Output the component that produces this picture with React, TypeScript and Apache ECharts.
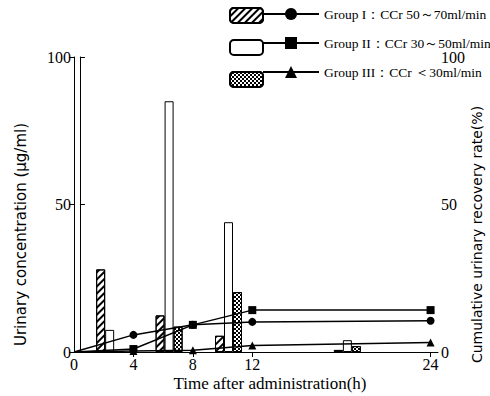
import React, { useEffect, useRef } from "react";
import * as echarts from "echarts";

// Sampling times (h) for cumulative urinary recovery
const hours = [0, 4, 8, 12, 24];
// Cumulative urinary recovery rate (%)
const rateI = [0, 5.8, 9.2, 10.2, 10.6];
const rateII = [0, 1.0, 9.2, 14.2, 14.2];
const rateIII = [0, 0.3, 0.6, 2.2, 3.2];

// Collection interval mid points (h) for urinary concentration
const intervalMid = [2, 6, 10, 18];
// Urinary concentration (µg/ml)
const concI = [28, 12.4, 5.5, 0.7];
const concII = [7.5, 85, 44, 4];
const concIII = [0, 8.6, 20.3, 2];

const xTickValues = [4, 8, 12, 24];
const xLabelValues = [0, 4, 8, 12, 24];

const groupNames = ["Group I", "Group II", "Group III"];
const groupLabels = [
  "Group I：CCr 50～70ml/min",
  "Group II：CCr 30～50ml/min",
  "Group III：CCr ＜30ml/min",
];

const SERIF = "'Liberation Serif', 'DejaVu Serif', serif";
const SANS = "'DejaVu Sans', sans-serif";

export default function App() {
  const ref = useRef<HTMLDivElement>(null);
  useEffect(() => {
    if (!ref.current) return;
    const chart = echarts.init(ref.current, undefined, { renderer: "svg" });

    const hatch = {
      symbol: "rect",
      symbolSize: 1,
      dashArrayX: [1, 0],
      dashArrayY: [1.5, 2.5],
      rotation: -Math.PI / 4,
      color: "#000",
      backgroundColor: "#fff",
    };
    const cross = {
      symbol: "rect",
      symbolSize: 1,
      dashArrayX: [
        [1.5, 1.5],
        [0, 1.5, 1.5, 0],
      ],
      dashArrayY: [1.5, 0],
      color: "#000",
      backgroundColor: "#fff",
    };
    const barStyles: any[] = [
      { color: "#fff", borderColor: "#000", borderWidth: 1, decal: hatch },
      { color: "#fff", borderColor: "#000", borderWidth: 1, decal: "none" },
      { color: "#fff", borderColor: "#000", borderWidth: 1, decal: cross },
    ];
    const concs = [concI, concII, concIII];
    const rates = [rateI, rateII, rateIII];
    const symbols = ["circle", "rect", "triangle"];

    const barSeries = concs.map((c, g) => ({
      name: groupNames[g] + " conc",
      type: "bar",
      xAxisIndex: 1,
      yAxisIndex: 0,
      barWidth: 9,
      barGap: "0%",
      itemStyle: barStyles[g],
      data: intervalMid.map((t, i) => [t, c[i]]),
    }));

    const lineSeries = rates.map((r, g) => ({
      name: groupNames[g],
      type: "line",
      xAxisIndex: 0,
      yAxisIndex: 1,
      symbol: symbols[g],
      symbolSize: 8,
      lineStyle: { color: "#000", width: 1.5 },
      itemStyle: { color: "#000" },
      z: 5,
      data: hours.map((t, i) =>
        i === 0 ? { value: [t, r[i]], symbol: "none" } : [t, r[i]]
      ),
    }));

    const axisLineStyle = { show: true, lineStyle: { color: "#000", width: 1 } };

    chart.setOption({
      animation: false,
      aria: { enabled: false, decal: { show: false } },
      grid: { left: 74, right: 52, top: 57, bottom: 44, outerBoundsMode: "none", containLabel: false },
      legend: [
        {
          orient: "vertical",
          left: 229,
          top: 7,
          padding: 0,
          itemWidth: 33,
          itemHeight: 15,
          itemGap: 15,
          selectedMode: false,
          formatter: () => "",
          textStyle: { fontSize: 13, lineHeight: 13 },
          data: groupNames.map((n) => n + " conc"),
        },
        {
          orient: "vertical",
          left: 262,
          top: 7,
          padding: 0,
          itemWidth: 56,
          itemHeight: 15,
          itemGap: 15,
          selectedMode: false,
          textStyle: { fontFamily: SERIF, fontSize: 13.5, color: "#000", lineHeight: 13 },
          formatter: (n: string) => groupLabels[groupNames.indexOf(n)],
          data: groupNames,
        },
      ],
      xAxis: [
        {
          type: "value",
          min: 0,
          max: 24.5,
          position: "bottom",
          name: "Time after administration(h)",
          nameLocation: "middle",
          nameGap: 23,
          nameMoveOverlap: false,
          nameTextStyle: { fontFamily: SERIF, fontSize: 17, color: "#000", padding: [0, 0, 0, 28] },
          axisLine: { ...axisLineStyle, onZero: false },
          axisTick: { show: true, length: 5, inside: false, customValues: xTickValues, lineStyle: { color: "#000" } },
          axisLabel: { customValues: xLabelValues, fontFamily: SERIF, fontSize: 16, color: "#000", margin: 4 },
          splitLine: { show: false },
        },
        {
          type: "value",
          min: -0.4,
          max: 24.1,
          show: false,
          splitLine: { show: false },
        },
      ],
      yAxis: [
        {
          type: "value",
          min: 0,
          max: 100,
          interval: 50,
          position: "left",
          name: "Urinary concentration (μg/ml)",
          nameLocation: "middle",
          nameGap: 46,
          nameMoveOverlap: false,
          nameTextStyle: { fontFamily: SANS, fontSize: 15, color: "#000", padding: [0, 60, 0, 0] },
          axisLine: axisLineStyle,
          axisTick: { show: true, length: 5, lineStyle: { color: "#000" } },
          axisLabel: { fontFamily: SERIF, fontSize: 16, color: "#000", margin: 3 },
          splitLine: { show: false },
        },
        {
          type: "value",
          min: 0,
          max: 100,
          interval: 50,
          position: "right",
          name: "Cumulative urinary recovery rate(%)",
          nameLocation: "middle",
          nameGap: 32,
          nameRotate: 90,
          nameMoveOverlap: false,
          nameTextStyle: { fontFamily: SANS, fontSize: 14, color: "#000", padding: [0, 60, 0, 0] },
          axisLine: axisLineStyle,
          axisTick: { show: true, length: 5, lineStyle: { color: "#000" } },
          axisLabel: { fontFamily: SERIF, fontSize: 16, lineHeight: 12, color: "#000", margin: 3 },
          splitLine: { show: false },
        },
      ],
      series: [...barSeries, ...lineSeries],
    });
    return () => chart.dispose();
  }, []);
  return (
    <div
      ref={ref}
      style={{ position: "absolute", left: 0, top: 0, width: 490, height: 396 }}
    />
  );
}
